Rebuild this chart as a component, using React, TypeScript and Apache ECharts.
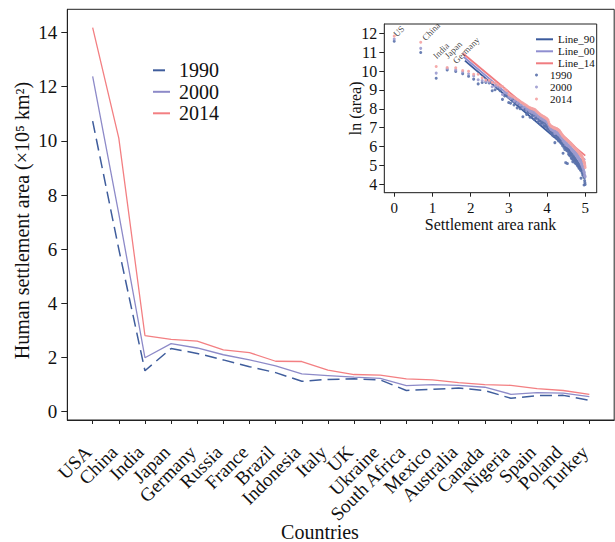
import React, { useEffect, useRef } from 'react';
import * as echarts from 'echarts';

const countries = ['USA', 'China', 'India', 'Japan', 'Germany', 'Russia', 'France', 'Brazil', 'Indonesia', 'Italy', 'UK', 'Ukraine', 'South Africa', 'Mexico', 'Australia', 'Canada', 'Nigeria', 'Spain', 'Poland', 'Turkey'];
const area1990 = [10.73, 6.0, 1.51, 2.33, 2.15, 1.91, 1.66, 1.44, 1.12, 1.19, 1.21, 1.17, 0.78, 0.82, 0.87, 0.78, 0.49, 0.59, 0.60, 0.42];
const area2000 = [12.38, 7.3, 1.99, 2.51, 2.35, 2.10, 1.91, 1.69, 1.39, 1.33, 1.27, 1.23, 0.96, 1.00, 0.97, 0.90, 0.64, 0.70, 0.68, 0.55];
const area2014 = [14.18, 10.1, 2.81, 2.67, 2.60, 2.28, 2.18, 1.86, 1.85, 1.53, 1.37, 1.35, 1.21, 1.17, 1.07, 1.00, 0.97, 0.85, 0.78, 0.64];
const mainYTicks = [0, 2, 4, 6, 8, 10, 12, 14];

// inset: ln(area) by settlement-area rank (1..148)
const ln2014 = [
  11.85, 11.52, 10.24, 10.19, 10.17, 10.03, 9.99, 9.83, 9.83, 9.64, 9.52, 9.51, 9.40, 9.37, 9.28, 9.21, 9.18, 9.05, 8.96, 8.76,
  8.70, 8.66, 8.61, 8.55, 8.50, 8.45, 8.40, 8.34, 8.30, 8.25, 8.21, 8.17, 8.12, 8.08, 8.05, 8.03, 8.01, 7.99, 7.97, 7.95,
  7.90, 7.85, 7.80, 7.76, 7.72, 7.69, 7.66, 7.63, 7.61, 7.58, 7.56, 7.53, 7.51, 7.48, 7.45, 7.40, 7.30, 7.20, 7.14, 7.10,
  7.08, 7.06, 7.04, 7.02, 7.00, 6.99, 6.98, 6.97, 6.96, 6.95, 6.93, 6.91, 6.89, 6.87, 6.85, 6.81, 6.77, 6.73, 6.69, 6.65,
  6.62, 6.59, 6.56, 6.53, 6.50, 6.48, 6.46, 6.44, 6.42, 6.40, 6.38, 6.36, 6.34, 6.32, 6.30, 6.28, 6.26, 6.24, 6.22, 6.20,
  6.18, 6.16, 6.14, 6.12, 6.10, 6.08, 6.06, 6.04, 6.02, 6.00, 5.98, 5.96, 5.94, 5.92, 5.90, 5.88, 5.86, 5.84, 5.82, 5.80,
  5.78, 5.76, 5.74, 5.72, 5.70, 5.68, 5.66, 5.64, 5.62, 5.60, 5.58, 5.56, 5.54, 5.52, 5.50, 5.47, 5.44, 5.41, 5.38, 5.35,
  5.31, 5.27, 5.23, 5.19, 5.15, 5.08, 5.00, 4.90,
];
const ln2000 = [
  11.70, 11.20, 9.89, 10.13, 10.06, 9.95, 9.86, 9.74, 9.54, 9.50, 9.45, 9.42, 9.17, 9.21, 9.18, 9.10, 8.76, 8.85, 8.82, 8.61,
  8.55, 8.58, 8.40, 8.45, 8.30, 8.35, 8.22, 8.20, 8.05, 8.12, 8.10, 7.98, 8.00, 7.92, 7.85, 7.90, 7.80, 7.88, 7.75, 7.82,
  7.70, 7.72, 7.60, 7.62, 7.55, 7.50, 7.52, 7.45, 7.48, 7.40, 7.42, 7.35, 7.38, 7.30, 7.25, 7.22, 7.15, 7.05, 7.00, 6.95,
  6.90, 6.92, 6.85, 6.88, 6.82, 6.85, 6.70, 6.80, 6.78, 6.72, 6.75, 6.68, 6.70, 6.62, 6.65, 6.60, 6.58, 6.50, 6.52, 6.45,
  6.42, 6.40, 6.30, 6.35, 6.28, 6.30, 6.22, 6.25, 6.10, 6.20, 6.18, 6.15, 6.05, 6.10, 6.08, 6.02, 6.05, 5.98, 6.00, 5.95,
  5.92, 5.95, 5.85, 5.88, 5.80, 5.85, 5.75, 5.80, 5.72, 5.75, 5.68, 5.72, 5.62, 5.68, 5.60, 5.62, 5.55, 5.58, 5.50, 5.52,
  5.45, 5.50, 5.40, 5.45, 5.35, 5.40, 5.30, 5.35, 5.25, 5.28, 5.20, 5.22, 5.10, 5.15, 5.05, 5.08, 4.98, 5.00, 4.90, 4.95,
  4.85, 4.80, 4.70, 4.65, 4.60, 4.50, 4.45, 4.40,
];
const ln1990 = [
  11.58, 10.98, 9.62, 10.06, 9.98, 9.86, 9.72, 9.57, 9.32, 9.39, 9.40, 9.37, 8.96, 9.01, 9.07, 8.96, 8.50, 8.68, 8.70, 8.33,
  8.30, 8.50, 8.20, 8.33, 8.05, 8.25, 8.00, 8.10, 7.58, 7.95, 7.98, 7.70, 7.85, 7.80, 7.55, 7.75, 7.60, 7.72, 7.45, 7.68,
  7.50, 7.58, 7.30, 7.48, 7.35, 7.20, 7.38, 7.25, 7.30, 7.10, 7.28, 7.05, 7.20, 7.12, 6.95, 7.05, 6.90, 6.98, 6.80, 6.85,
  6.70, 6.78, 6.60, 6.72, 6.55, 6.68, 6.21, 6.62, 6.58, 6.45, 6.55, 6.40, 6.50, 6.30, 6.45, 6.35, 6.40, 6.20, 6.30, 6.15,
  6.22, 6.05, 5.65, 6.10, 5.95, 6.05, 5.85, 5.98, 5.15, 5.90, 5.80, 5.88, 5.10, 5.75, 5.82, 5.60, 5.70, 5.55, 5.72, 5.50,
  5.62, 5.68, 5.40, 5.58, 5.35, 5.52, 5.20, 5.45, 5.30, 5.48, 5.25, 5.40, 5.15, 5.35, 5.28, 5.10, 5.30, 5.20, 5.05, 5.22,
  5.00, 5.15, 4.95, 5.10, 5.00, 4.85, 5.05, 4.90, 4.86, 5.00, 4.75, 4.90, 4.33, 4.80, 4.70, 4.85, 4.60, 4.75, 4.50, 4.65,
  4.50, 4.55, 4.40, 3.97, 4.35, 4.20, 4.10, 4.00,
];
const fit90 = [[1.85, 10.55], [5.0, 5.1]];
const fit00 = [[1.82, 10.74], [5.0, 5.3]];
const fit14 = [[1.8, 10.93], [5.0, 5.52]];
const insetNames = ['US', 'China', 'India', 'Japan', 'Germany'];
const insetNamePos = [[0.1, 11.72], [0.85, 11.52], [1.14, 10.55], [1.44, 10.57], [1.66, 10.3]];
const insetXTicks = [0, 1, 2, 3, 4, 5];
const insetYTicks = [4, 5, 6, 7, 8, 9, 10, 11, 12];

const FONT = '"Liberation Serif", "Times New Roman", serif';
const C90 = '#3f5d9c';
const C00 = '#8d8ac8';
const C14 = '#f37f82';

export default function App() {
  const ref = useRef<HTMLDivElement>(null);
  useEffect(() => {
    if (!ref.current) return;
    document.body.style.margin = '0';
    const chart = echarts.init(ref.current, null, { renderer: 'svg' });
    const rank = (arr: number[]) => arr.map((v, i) => [Math.log(i + 1), v]);
    const idx = countries.map((_, i) => i);
    // empty guard labels at both ends so that no country label is dropped by min/max overlap logic
    const labelVals = [-0.9, ...idx, 19.9];
    const axisLine = { show: true, onZero: false, lineStyle: { color: '#222', width: 1 } };
    chart.setOption({
      animation: false,
      backgroundColor: '#fff',
      textStyle: { fontFamily: FONT },
      graphic: [
        {
          type: 'text', x: 22, y: 220.5, rotation: Math.PI / 2,
          style: { text: 'Human settlement area (×10⁵ km²)', fontSize: 20, fontFamily: FONT, fill: '#111', textAlign: 'center', textVerticalAlign: 'middle' },
        },
        {
          type: 'text', x: 320, y: 531.5,
          style: { text: 'Countries', fontSize: 20, fontFamily: FONT, fill: '#111', textAlign: 'center', textVerticalAlign: 'middle' },
        },
      ],
      grid: [
        { left: 67.3, top: 9.3, width: 547, height: 410.7, show: true, borderColor: '#222', borderWidth: 1, backgroundColor: 'transparent' },
        { left: 384.3, top: 24, width: 212.4, height: 168.7, show: true, borderColor: '#222', borderWidth: 1, backgroundColor: '#fff', z: 5 },
      ],
      xAxis: [
        {
          type: 'value', gridIndex: 0, min: -0.97, max: 19.95,
          splitLine: { show: false }, axisLine,
          axisTick: { show: true, length: 4, customValues: idx, lineStyle: { color: '#222' } },
          axisLabel: { customValues: labelVals, hideOverlap: false, formatter: (v: number) => (v >= 0 && v <= 19 ? countries[Math.round(v)] : ''), rotate: 45, align: 'right', verticalAlign: 'top', padding: [0, 16, 0, 0], fontSize: 19, fontFamily: FONT, color: '#111', margin: 11 },
        },
        {
          type: 'value', gridIndex: 1, min: -0.26, max: 5.3,
          splitLine: { show: false }, axisLine,
          axisTick: { show: true, length: 4, customValues: insetXTicks, lineStyle: { color: '#222' } },
          axisLabel: { customValues: insetXTicks, showMinLabel: true, showMaxLabel: true, fontSize: 15, fontFamily: FONT, color: '#111', margin: 8 },
          name: 'Settlement area rank', nameLocation: 'middle', nameGap: 23.5, nameMoveOverlap: false, nameTextStyle: { fontSize: 16, fontFamily: FONT, color: '#111' },
        },
      ],
      yAxis: [
        {
          type: 'value', gridIndex: 0, min: -0.31, max: 14.86,
          splitLine: { show: false }, axisLine,
          axisTick: { show: true, length: 6, customValues: mainYTicks, lineStyle: { color: '#222' } },
          axisLabel: { customValues: mainYTicks, showMinLabel: true, showMaxLabel: true, fontSize: 19, fontFamily: FONT, color: '#111', margin: 10 },
        },
        {
          type: 'value', gridIndex: 1, min: 3.56, max: 12.49,
          splitLine: { show: false }, axisLine,
          axisTick: { show: true, length: 5, customValues: insetYTicks, lineStyle: { color: '#222' } },
          axisLabel: { customValues: insetYTicks, showMinLabel: true, showMaxLabel: true, fontSize: 16, fontFamily: FONT, color: '#111', margin: 7 },
          name: 'ln (area)', nameLocation: 'middle', nameGap: 21, nameMoveOverlap: false, nameTextStyle: { fontSize: 16, fontFamily: FONT, color: '#111' },
        },
      ],
      legend: [
        {
          data: ['1990', '2000', '2014'], orient: 'vertical', left: 152, top: 60.3, padding: 0,
          itemWidth: 17, itemHeight: 10, itemGap: 1.5,
          itemStyle: { opacity: 0 },
          textStyle: { fontSize: 20, lineHeight: 20, fontFamily: FONT, color: '#111', padding: [0, 0, 0, 4] },
        },
        {
          data: ['Line_90', 'Line_00', 'Line_14'], orient: 'vertical', left: 535, top: 33.3, padding: 0, z: 20,
          itemWidth: 17, itemHeight: 8, itemGap: 0,
          itemStyle: { opacity: 0 },
          textStyle: { fontSize: 11, lineHeight: 12, fontFamily: FONT, color: '#111' },
        },
        {
          data: ['s1990', 's2000', 's2014'], orient: 'vertical', left: 535, top: 69, padding: 0, z: 20,
          itemWidth: 17, itemHeight: 3, itemGap: 0,
          formatter: (n: string) => n.slice(1),
          textStyle: { fontSize: 11, lineHeight: 12, fontFamily: FONT, color: '#111' },
        },
      ],
      series: [
        { name: '1990', type: 'line', xAxisIndex: 0, yAxisIndex: 0, symbol: 'none', data: area1990.map((v, i) => [i, v]), lineStyle: { color: C90, width: 1.5, type: [12, 6] }, itemStyle: { color: C90 } },
        { name: '2000', type: 'line', xAxisIndex: 0, yAxisIndex: 0, symbol: 'none', data: area2000.map((v, i) => [i, v]), lineStyle: { color: C00, width: 1.3 }, itemStyle: { color: C00 } },
        { name: '2014', type: 'line', xAxisIndex: 0, yAxisIndex: 0, symbol: 'none', data: area2014.map((v, i) => [i, v]), lineStyle: { color: C14, width: 1.3 }, itemStyle: { color: C14 } },
        { name: 'Line_90', type: 'line', xAxisIndex: 1, yAxisIndex: 1, symbol: 'none', data: fit90, lineStyle: { color: '#3a5a9c', width: 1.8 }, itemStyle: { color: '#3a5a9c' }, z: 6 },
        { name: 'Line_00', type: 'line', xAxisIndex: 1, yAxisIndex: 1, symbol: 'none', data: fit00, lineStyle: { color: '#8f8ed0', width: 1.8 }, itemStyle: { color: '#8f8ed0' }, z: 6 },
        { name: 'Line_14', type: 'line', xAxisIndex: 1, yAxisIndex: 1, symbol: 'none', data: fit14, lineStyle: { color: '#f07c80', width: 1.8 }, itemStyle: { color: '#f07c80' }, z: 6 },
        { name: 's1990', type: 'scatter', xAxisIndex: 1, yAxisIndex: 1, symbol: 'circle', symbolSize: 3, data: rank(ln1990), itemStyle: { color: '#5a71ab', opacity: 0.9 }, z: 7 },
        { name: 's2000', type: 'scatter', xAxisIndex: 1, yAxisIndex: 1, symbol: 'circle', symbolSize: 3, data: rank(ln2000), itemStyle: { color: '#9c9bcf', opacity: 0.9 }, z: 7 },
        { name: 's2014', type: 'scatter', xAxisIndex: 1, yAxisIndex: 1, symbol: 'circle', symbolSize: 3, data: rank(ln2014), itemStyle: { color: '#f4a2a2', opacity: 0.9 }, z: 7 },
        {
          name: 'labels', type: 'scatter', xAxisIndex: 1, yAxisIndex: 1, symbolSize: 0, z: 8,
          data: insetNames.map((n, i) => ({ name: n, value: insetNamePos[i] })),
          label: { show: true, formatter: '{b}', position: [0, 0], rotate: 45, align: 'left', verticalAlign: 'bottom', fontSize: 9, fontFamily: FONT, color: '#111' },
        },
      ],
    });
    return () => chart.dispose();
  }, []);
  return <div ref={ref} style={{ width: 615, height: 542 }} />;
}
